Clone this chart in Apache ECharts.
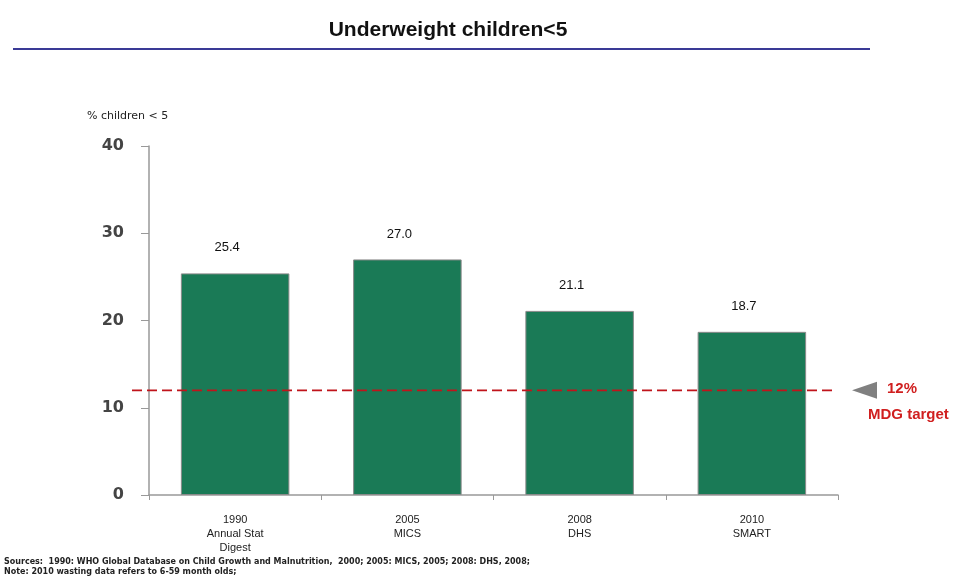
<!DOCTYPE html>
<html>
<head>
<meta charset="utf-8">
<script src="https://cdn.jsdelivr.net/npm/echarts@6/dist/echarts.min.js"></script>
<style>
html,body{margin:0;padding:0;background:#fff;}
#c{width:955px;height:583px;}
</style>
</head>
<body>
<div id="c"></div>
<script>
const categories = ['1990\nAnnual Stat\nDigest', '2005\nMICS', '2008\nDHS', '2010\nSMART'];
const values = [25.4, 27.0, 21.1, 18.7];
const targetValue = 12;
const yTicks = [0, 10, 20, 30, 40];

const chart = echarts.init(document.getElementById('c'));
const font = 'Liberation Sans, Arial, sans-serif';

chart.setOption({
  animation: false,
  backgroundColor: '#fff',
  title: {
    text: 'Underweight children<5',
    left: 443, top: 15, textAlign: 'center',
    textStyle: { fontFamily: font, fontSize: 21, fontWeight: 'bold', color: '#111' }
  },
  grid: { left: 149, right: 117, top: 146, bottom: 88 },
  xAxis: {
    type: 'category',
    data: categories,
    axisLine: { lineStyle: { color: '#999', width: 1.5 } },
    axisTick: { show: true, length: 5, lineStyle: { color: '#999' } },
    axisLabel: { fontFamily: font, fontSize: 11, color: '#222', lineHeight: 14, margin: 18 }
  },
  yAxis: {
    type: 'value',
    min: yTicks[0], max: yTicks[yTicks.length - 1], interval: 10,
    axisLine: { show: true, lineStyle: { color: '#999', width: 1.5 } },
    axisTick: { show: true, length: 8, lineStyle: { color: '#999' } },
    splitLine: { show: false },
    axisLabel: { fontFamily: 'DejaVu Sans, sans-serif', fontSize: 16, fontWeight: 'bold', color: '#444', margin: 25 }
  },
  series: [{
    type: 'bar',
    data: values,
    barWidth: '63%',
    itemStyle: { color: '#1a7a56', borderColor: '#8a8a8a', borderWidth: 1 },
    label: {
      show: true, position: 'top', distance: 19, offset: [-8, 0],
      fontFamily: font, fontSize: 13, color: '#111',
      formatter: p => p.value.toFixed(1)
    }
  }]
});

const py = chart.convertToPixel({ yAxisIndex: 0 }, targetValue);
chart.setOption({
  graphic: [
    { type: 'line', shape: { x1: 13, y1: 49, x2: 870, y2: 49 }, style: { stroke: '#3a3a96', lineWidth: 2 } },
    { type: 'text', left: 87, top: 111, style: { text: '% children < 5', font: '11px DejaVu Sans, sans-serif', fill: '#222' } },
    { type: 'line', z: 10, shape: { x1: 132, y1: py, x2: 834, y2: py }, style: { stroke: '#c0141b', lineWidth: 1.8, lineDash: [10, 5] } },
    { type: 'polygon', shape: { points: [[852, py], [877, py - 8.5], [877, py + 8.5]] }, style: { fill: '#808080' } },
    { type: 'text', x: 887, y: py - 9, style: { text: '12%', font: 'bold 15px ' + font, fill: '#d01f1f' } },
    { type: 'text', x: 868, y: py + 17, style: { text: 'MDG target', font: 'bold 15px ' + font, fill: '#d01f1f' } },
    { type: 'text', x: 4, y: 558, style: { text: 'Sources:  1990: WHO Global Database on Child Growth and Malnutrition,  2000; 2005: MICS, 2005; 2008: DHS, 2008;', font: 'bold 8px DejaVu Sans, sans-serif', fill: '#222' } },
    { type: 'text', x: 4, y: 568, style: { text: 'Note: 2010 wasting data refers to 6-59 month olds;', font: 'bold 8px DejaVu Sans, sans-serif', fill: '#222' } }
  ]
});
</script>
</body>
</html>
